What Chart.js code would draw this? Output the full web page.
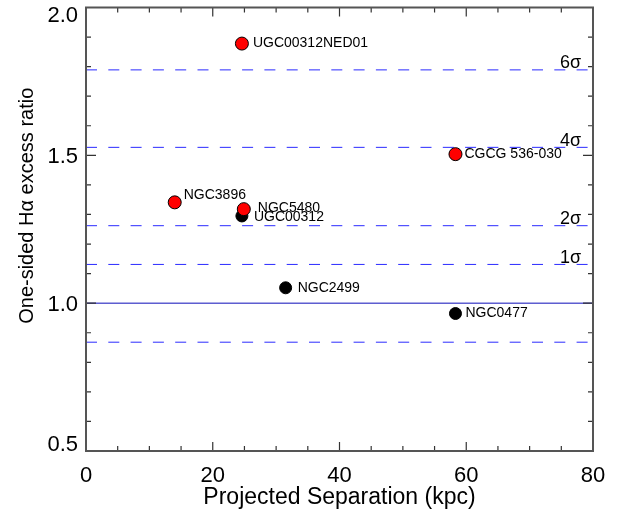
<!DOCTYPE html>
<html>
<head>
<meta charset="utf-8">
<script src="https://cdn.jsdelivr.net/npm/chart.js@4.4.1/dist/chart.umd.min.js"></script>
<style>
  body { margin: 0; background: #fff; }
  #wrap { width: 624px; height: 513px; }
</style>
</head>
<body>
<div id="wrap"><canvas id="haChart"></canvas></div>
<script>
// galaxies with a significant one-sided excess (red) and the others (black)
const redNames = ['UGC00312NED01', 'NGC3896', 'NGC5480', 'CGCG 536-030'];
const redSep   = [24.6, 14.0, 24.9, 58.3];
const redRatio = [1.878, 1.341, 1.318, 1.504];

const blackNames = ['UGC00312', 'NGC2499', 'NGC0477'];
const blackSep   = [24.6, 31.5, 58.3];
const blackRatio = [1.295, 1.052, 0.965];

// significance levels (dashed) and the unity line
const sigmaNames  = ['1σ', '2σ', '4σ', '6σ'];
const sigmaLevels = [1.131, 1.262, 1.527, 1.789];
const lowerLevel  = 0.868;
const unityLevel  = 1.0;

const xTicks = [0, 20, 40, 60, 80];
const yTicks = [0.5, 1.0, 1.5, 2.0];

// label nudges in px (dx, dy), same order as the names
const redNudge   = [[11, 0], [9, -7], [14, -1], [9, 0]];
const blackNudge = [[12, 1.5], [12, 0], [10, 0]];

const FONT = "'Liberation Sans', Arial, Helvetica, sans-serif";

function toPoints(xs, ys) {
  return xs.map((x, i) => ({ x: x, y: ys[i] }));
}

function hline(v, color, dash) {
  return {
    type: 'line',
    data: [{ x: xTicks[0], y: v }, { x: xTicks[xTicks.length - 1], y: v }],
    borderColor: color,
    borderWidth: 1,
    borderDash: dash,
    pointRadius: 0,
    order: 5
  };
}

const dashBlue = '#2a2aff';
const lineSets = sigmaLevels.concat([lowerLevel]).map(v => hline(v, dashBlue, [11, 11.3]));
lineSets.push(hline(unityLevel, '#0c0cb8', []));

// names next to the markers
const namePlugin = {
  id: 'names',
  afterDatasetsDraw(chart) {
    const ctx = chart.ctx;
    ctx.save();
    ctx.font = '14px ' + FONT;
    ctx.fillStyle = '#000';
    ctx.textAlign = 'left';
    ctx.textBaseline = 'middle';
    chart.data.datasets.forEach((ds, i) => {
      if (!ds.names) return;
      chart.getDatasetMeta(i).data.forEach((pt, j) => {
        const n = ds.nudge[j];
        ctx.fillText(ds.names[j], pt.x + n[0], pt.y + n[1]);
      });
    });
    ctx.restore();
  }
};

// IDL style box: inward ticks on all four sides, y labels, sigma labels
const framePlugin = {
  id: 'frame',
  afterDraw(chart) {
    const ctx = chart.ctx;
    const a = chart.chartArea;
    const xs = chart.scales.x, ys = chart.scales.y;
    ctx.save();

    ctx.strokeStyle = '#333';
    ctx.lineWidth = 1.2;
    ctx.beginPath();
    for (let v = 0; v <= 80 + 1e-9; v += 5) {
      const px = xs.getPixelForValue(v);
      const len = (Math.round(v) % 20 === 0) ? 9 : 5;
      ctx.moveTo(px, a.bottom); ctx.lineTo(px, a.bottom - len);
      ctx.moveTo(px, a.top); ctx.lineTo(px, a.top + len);
    }
    for (let k = 5; k <= 20; k++) {
      const v = k / 10;
      const py = ys.getPixelForValue(v);
      const len = (k % 5 === 0) ? 10 : 5;
      ctx.moveTo(a.left, py); ctx.lineTo(a.left + len, py);
      ctx.moveTo(a.right, py); ctx.lineTo(a.right - len, py);
    }
    ctx.stroke();

    ctx.strokeStyle = '#555';
    ctx.lineWidth = 2;
    ctx.strokeRect(a.left, a.top, a.right - a.left, a.bottom - a.top);

    // y tick labels, kept inside the box at both ends
    ctx.fillStyle = '#000';
    ctx.font = '22px ' + FONT;
    ctx.textAlign = 'right';
    ctx.textBaseline = 'alphabetic';
    const cap = 22 * 0.716;
    yTicks.forEach(v => {
      let cy = ys.getPixelForValue(v);
      cy = Math.min(Math.max(cy, a.top + cap / 2 - 1), a.bottom - cap / 2);
      ctx.fillText(v.toFixed(1), a.left - 8, cy + cap / 2);
    });

    // y axis title
    ctx.save();
    ctx.font = '20px ' + FONT;
    ctx.textAlign = 'center';
    ctx.translate(33, a.top + (a.bottom - a.top) * 0.447);
    ctx.rotate(-Math.PI / 2);
    ctx.fillText('One-sided Hα excess ratio', 0, 0);
    ctx.restore();

    // sigma labels
    ctx.font = '18px ' + FONT;
    ctx.textAlign = 'right';
    sigmaLevels.forEach((v, i) => {
      ctx.fillText(sigmaNames[i], a.right - 12, ys.getPixelForValue(v) - 1.5);
    });

    ctx.restore();
  }
};

const chart = new Chart(document.getElementById('haChart'), {
  type: 'scatter',
  data: {
    datasets: [
      {
        names: redNames,
        nudge: redNudge,
        data: toPoints(redSep, redRatio),
        backgroundColor: '#ff0000',
        borderColor: '#000',
        borderWidth: 1,
        pointRadius: 6.5,
        order: 0
      },
      {
        names: blackNames,
        nudge: blackNudge,
        data: toPoints(blackSep, blackRatio),
        backgroundColor: '#000',
        borderColor: '#000',
        borderWidth: 1,
        pointRadius: 6,
        order: 1
      }
    ].concat(lineSets)
  },
  options: {
    responsive: true,
    maintainAspectRatio: false,
    animation: false,
    layout: { padding: { top: 7, right: 31, left: 0, bottom: 0 } },
    plugins: {
      legend: { display: false },
      tooltip: { enabled: false }
    },
    scales: {
      x: {
        type: 'linear',
        min: 0,
        max: 80,
        afterBuildTicks: s => { s.ticks = xTicks.map(v => ({ value: v })); },
        afterFit: s => { s.height = 62; },
        grid: { display: false, drawTicks: false },
        border: { display: false },
        ticks: {
          padding: 12,
          color: '#000',
          font: { family: FONT, size: 22 }
        },
        title: {
          display: true,
          text: 'Projected Separation (kpc)',
          color: '#000',
          font: { family: FONT, size: 23 },
          padding: { top: 0, bottom: 2 }
        }
      },
      y: {
        type: 'linear',
        min: 0.5,
        max: 2.0,
        afterBuildTicks: s => { s.ticks = yTicks.map(v => ({ value: v })); },
        afterFit: s => { s.width = 86; },
        grid: { display: false, drawTicks: false },
        border: { display: false },
        ticks: { display: false }
      }
    }
  },
  plugins: [namePlugin, framePlugin]
});
</script>
</body>
</html>
